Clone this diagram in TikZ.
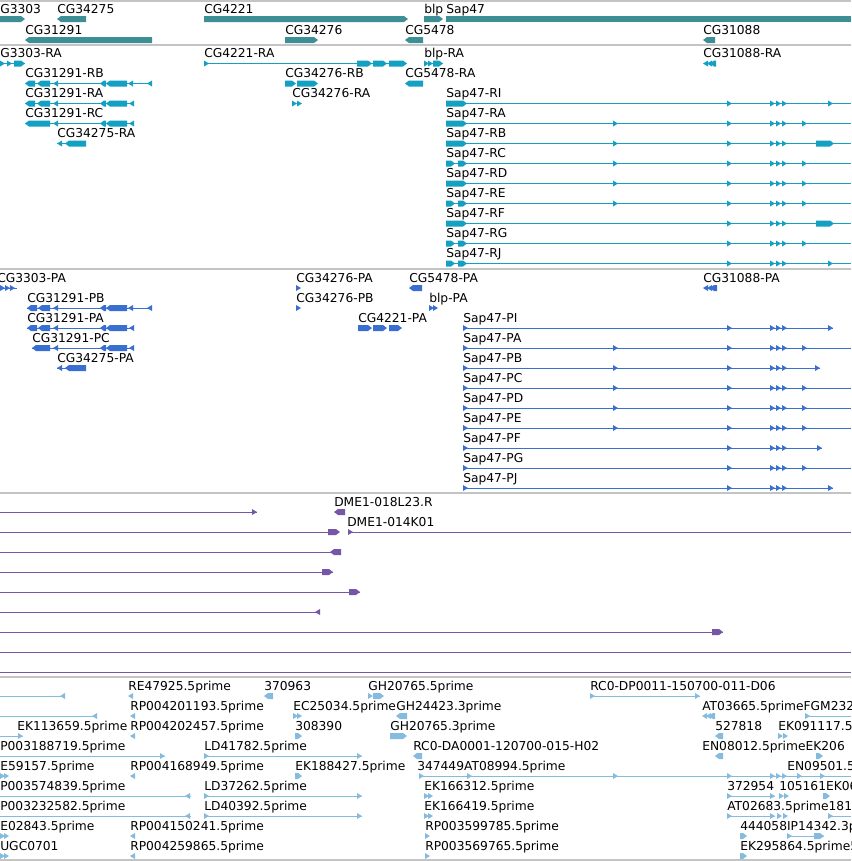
\documentclass[tikz,border=0pt]{standalone}
\usepackage{fontspec}
\setmainfont{DejaVu Sans}
\definecolor{sepc}{HTML}{C4C4C4}
\definecolor{genec}{HTML}{3E8F95}
\definecolor{trc}{HTML}{13A0C3}
\definecolor{prc}{HTML}{3A6FD2}
\definecolor{cdc}{HTML}{7656A6}
\definecolor{estc}{HTML}{86BBE0}
\newcommand\gFB[3]{\fill (#2,#1-3) -- ({#3-4},#1-3) -- (#3,#1) -- ({#3-4},#1+3) -- (#2,#1+3) -- cycle;}
\newcommand\gRB[3]{\fill (#2,#1) -- ({#2+4},#1-3) -- (#3,#1-3) -- (#3,#1+3) -- ({#2+4},#1+3) -- cycle;}
\newcommand\gFT[2]{\fill (#2,#1-3) -- ({#2+5},#1) -- (#2,#1+3) -- cycle;}
\newcommand\gRT[2]{\fill ({#2+5},#1-3) -- (#2,#1) -- ({#2+5},#1+3) -- cycle;}
\newcommand\gIL[3]{\draw[line width=0.75pt] (#2,#1) -- (#3,#1);}
\newcommand\gTrip[1]{\gFT{#1}{770}\gFT{#1}{776}\gFT{#1}{782}}
\newcommand\gTwo[1]{\gFB{#1}{446}{455}\gFB{#1}{458}{467}}
\newcommand\gL[3]{\node[lbl] at (#1,#2) {#3};}
\begin{document}
\begin{tikzpicture}[x=0.75pt,y=-0.75pt,
  lbl/.style={anchor=base west,inner sep=0pt,text=black,font=\fontsize{9.2pt}{11pt}\selectfont}]
\useasboundingbox (0,0) rectangle (851,861);
\fill[white] (0,0) rectangle (851,861);
\clip (0,0) rectangle (851,861);
% separators
\begin{scope}[sepc,line width=1.5pt]
\draw (0,1) -- (851,1);
\draw (0,45) -- (851,45);
\draw (0,269) -- (851,269);
\draw (0,493) -- (851,493);
\draw (0,677) -- (851,677);
\draw (0,860) -- (851,860);
\end{scope}
% ---------- genes ----------
\begin{scope}[genec]
\gFB{19}{0}{25}
\gRB{19}{57}{86}
\gFB{19}{204}{408}
\gFB{19}{424}{443}
\fill (446,16) rectangle (851,22);
\gRB{40}{25}{152}
\gFB{40}{285}{318}
\gRB{40}{405}{423}
\gRB{40}{703}{715}
\end{scope}
\gL{0}{13}{G3303}
\gL{57}{13}{CG34275}
\gL{204}{13}{CG4221}
\gL{424}{13}{blp}
\gL{446}{13}{Sap47}
\gL{25}{34}{CG31291}
\gL{285}{34}{CG34276}
\gL{405}{34}{CG5478}
\gL{703}{34}{CG31088}
% ---------- transcripts ----------
\begin{scope}[trc]
\gIL{63.5}{0}{25}\gFT{63.5}{0}\gFT{63.5}{7}\gFB{63.5}{14}{25}
\gIL{63.5}{204}{407}\gFT{63.5}{204}\gFB{63.5}{357}{372}\gFB{63.5}{373}{387}\gFB{63.5}{389}{407}
\gIL{63.5}{424}{443}\gFT{63.5}{424}\gFT{63.5}{428}\gFB{63.5}{433}{443}
\gRT{63.5}{703}\gRT{63.5}{707}\gRB{63.5}{710}{716}
\gIL{83.5}{25}{152}\gRB{83.5}{25}{35}\gRB{83.5}{37}{50}\gRT{83.5}{53}\gRB{83.5}{100}{106}\gRB{83.5}{106}{127}\gRT{83.5}{128}\gRT{83.5}{147}
\gFB{83.5}{285}{296}\gFB{83.5}{297}{318}
\gRB{83.5}{405}{423}
\gIL{103.5}{25}{134}\gRB{103.5}{25}{35}\gRB{103.5}{37}{50}\gRT{103.5}{53}\gRB{103.5}{100}{106}\gRB{103.5}{106}{127}\gRT{103.5}{129}
\gFT{103.5}{292}\gFT{103.5}{297}
\gIL{103.5}{446}{851}\gFB{103.5}{446}{467}\gFT{103.5}{727}\gTrip{103.5}\gFT{103.5}{828}
\gIL{123.5}{25}{134}\gRB{123.5}{25}{50}\gRT{123.5}{53}\gRB{123.5}{100}{106}\gRB{123.5}{106}{127}\gRT{123.5}{129}
\gIL{123.5}{446}{851}\gFB{123.5}{446}{467}\gFT{123.5}{613}\gFT{123.5}{727}\gTrip{123.5}\gFT{123.5}{802}
\gIL{143.5}{57}{86}\gRT{143.5}{57}\gRB{143.5}{65}{86}
\gIL{143.5}{446}{851}\gFB{143.5}{446}{467}\gFT{143.5}{613}\gFT{143.5}{727}\gTrip{143.5}\gFB{143.5}{816}{834}
\gIL{163.5}{446}{851}\gTwo{163.5}\gFT{163.5}{613}\gFT{163.5}{727}\gTrip{163.5}\gFT{163.5}{802}
\gIL{183.5}{446}{851}\gFB{183.5}{446}{467}\gFT{183.5}{613}\gFT{183.5}{727}\gTrip{183.5}\gFT{183.5}{802}
\gIL{203.5}{446}{851}\gTwo{203.5}\gFT{203.5}{613}\gFT{203.5}{727}\gTrip{203.5}\gFT{203.5}{802}
\gIL{223.5}{446}{851}\gFB{223.5}{446}{467}\gFT{223.5}{727}\gTrip{223.5}\gFB{223.5}{816}{834}
\gIL{243.5}{446}{851}\gTwo{243.5}\gFT{243.5}{727}\gTrip{243.5}\gFT{243.5}{802}
\gIL{263.5}{446}{851}\gTwo{263.5}\gFT{263.5}{727}\gTrip{263.5}\gFT{263.5}{828}
\end{scope}
\gL{0}{57.5}{G3303-RA}
\gL{204}{57.5}{CG4221-RA}
\gL{424}{57.5}{blp-RA}
\gL{703}{57.5}{CG31088-RA}
\gL{25}{77.5}{CG31291-RB}
\gL{285}{77.5}{CG34276-RB}
\gL{405}{77.5}{CG5478-RA}
\gL{25}{97.5}{CG31291-RA}
\gL{292}{97.5}{CG34276-RA}
\gL{446}{97.5}{Sap47-RI}
\gL{25}{117.5}{CG31291-RC}
\gL{446}{117.5}{Sap47-RA}
\gL{57}{137.5}{CG34275-RA}
\gL{446}{137.5}{Sap47-RB}
\gL{446}{157.5}{Sap47-RC}
\gL{446}{177.5}{Sap47-RD}
\gL{446}{197.5}{Sap47-RE}
\gL{446}{217.5}{Sap47-RF}
\gL{446}{237.5}{Sap47-RG}
\gL{446}{257.5}{Sap47-RJ}
% ---------- proteins ----------
\begin{scope}[prc]
\gIL{288}{0}{17}\gFT{288}{0}\gFT{288}{5}\gFT{288}{10}
\gFT{288}{296}
\gRB{288}{409}{422}
\gRT{288}{703}\gRT{288}{707}\gRB{288}{710}{717}
\gIL{308}{27}{152}\gRB{308}{27}{37}\gRB{308}{38}{50}\gRT{308}{53}\gRB{308}{100}{106}\gRB{308}{106}{127}\gRT{308}{128}\gRT{308}{147}
\gFT{308}{296}
\gFT{308}{429}\gFT{308}{433}
\gIL{328}{27}{134}\gRB{328}{27}{37}\gRB{328}{38}{50}\gRT{328}{53}\gRB{328}{100}{106}\gRB{328}{106}{127}\gRT{328}{129}
\gFB{328}{358}{372}\gFB{328}{373}{387}\gFB{328}{389}{402}
\gIL{328}{463}{833}\gFT{328}{463}\gFT{328}{727}\gTrip{328}\gFT{328}{828}
\gIL{348}{32}{134}\gRB{348}{32}{50}\gRT{348}{53}\gRB{348}{100}{106}\gRB{348}{106}{127}\gRT{348}{129}
\gIL{348}{463}{851}\gFT{348}{463}\gFT{348}{613}\gFT{348}{727}\gTrip{348}\gFT{348}{802}
\gIL{368}{57}{86}\gRT{368}{57}\gRB{368}{65}{86}
\gIL{368}{463}{820}\gFT{368}{463}\gFT{368}{613}\gFT{368}{727}\gTrip{368}\gFT{368}{815}
\gIL{388}{463}{851}\gFT{388}{463}\gFT{388}{613}\gFT{388}{727}\gTrip{388}\gFT{388}{802}
\gIL{408}{463}{851}\gFT{408}{463}\gFT{408}{613}\gFT{408}{727}\gTrip{408}\gFT{408}{802}
\gIL{428}{463}{851}\gFT{428}{463}\gFT{428}{613}\gFT{428}{727}\gTrip{428}\gFT{428}{802}
\gIL{448}{463}{822}\gFT{448}{463}\gFT{448}{727}\gTrip{448}\gFT{448}{817}
\gIL{468}{463}{851}\gFT{468}{463}\gFT{468}{727}\gTrip{468}\gFT{468}{802}
\gIL{488}{463}{833}\gFT{488}{463}\gFT{488}{727}\gTrip{488}\gFT{488}{828}
\end{scope}
\gL{-3}{282}{CG3303-PA}
\gL{296}{282}{CG34276-PA}
\gL{409}{282}{CG5478-PA}
\gL{703}{282}{CG31088-PA}
\gL{27}{302}{CG31291-PB}
\gL{296}{302}{CG34276-PB}
\gL{429}{302}{blp-PA}
\gL{27}{322}{CG31291-PA}
\gL{358}{322}{CG4221-PA}
\gL{463}{322}{Sap47-PI}
\gL{32}{342}{CG31291-PC}
\gL{463}{342}{Sap47-PA}
\gL{57}{362}{CG34275-PA}
\gL{463}{362}{Sap47-PB}
\gL{463}{382}{Sap47-PC}
\gL{463}{402}{Sap47-PD}
\gL{463}{422}{Sap47-PE}
\gL{463}{442}{Sap47-PF}
\gL{463}{462}{Sap47-PG}
\gL{463}{482}{Sap47-PJ}
% ---------- clones ----------
\begin{scope}[cdc]
\gIL{512}{0}{257}\gFT{512}{252}
\gRB{512}{334}{345}
\gIL{532}{0}{338}\gFB{532}{328}{340}\gFT{532}{348}\gIL{532}{348}{851}
\gIL{552}{0}{341}\gRB{552}{330}{341}
\gIL{572}{0}{333}\gFB{572}{322}{333}
\gIL{592}{0}{360}\gFB{592}{349}{360}
\gIL{612}{0}{319}\gRT{612}{315}
\gIL{632}{0}{723}\gFB{632}{712}{723}
\gIL{652}{0}{851}
\gIL{672}{0}{851}
\end{scope}
\gL{334}{506}{DME1-018L23.R}
\gL{347}{526}{DME1-014K01}
% ---------- ESTs ----------
\begin{scope}[estc]
\gIL{696}{0}{65}\gRT{696}{60}
\gRT{696}{128}
\gRB{696}{264}{273}
\gFT{696}{368}\gFB{696}{373}{384}
\gIL{696}{590}{700}\gFT{696}{590}\gFT{696}{695}
\gIL{716}{0}{97}\gRT{716}{92}
\gRT{716}{130}
\gFT{716}{293}\gFT{716}{297}
\gRB{716}{396}{407}
\gRT{716}{702}\gRT{716}{706}\gRB{716}{709}{715}
\gIL{716}{805}{851}\gFT{716}{805}
\gIL{736}{0}{23}\gFT{736}{18}
\gRT{736}{130}
\gFB{736}{295}{302}
\gFB{736}{390}{407}
\gRB{736}{715}{723}
\gFT{736}{778}\gFT{736}{783}
\gIL{756}{0}{165}\gFT{756}{160}
\gIL{756}{204}{362}\gFT{756}{204}\gFT{756}{357}
\gRB{756}{413}{422}
\gRB{756}{715}{723}
\gFB{756}{816}{823}
\gFT{776}{0}\gFT{776}{4}
\gRT{776}{130}
\gFB{776}{295}{302}
\gIL{776}{419}{851}\gFT{776}{419}\gFT{776}{467}\gFT{776}{613}\gFT{776}{727}\gTrip{776}\gFT{776}{797}\gFT{776}{820}
\gIL{796}{0}{191}\gRT{796}{185}
\gIL{796}{204}{362}\gFT{796}{204}\gFT{796}{357}
\gFT{796}{424}\gFT{796}{428}
\gIL{796}{727}{775}\gFT{796}{727}\gFT{796}{770}
\gFT{796}{779}\gFT{796}{784}
\gFB{796}{823}{830}
\gIL{816}{0}{191}\gRT{816}{185}
\gIL{816}{204}{362}\gFT{816}{204}\gFT{816}{357}
\gFT{816}{424}\gFT{816}{428}
\gIL{816}{727}{775}\gFT{816}{727}\gFT{816}{770}\gFT{816}{777}\gFT{816}{783}
\gIL{816}{828}{851}\gFT{816}{828}
\gFT{836}{0}\gFT{836}{4}
\gRT{836}{130}
\gFT{836}{425}
\gFB{836}{740}{747}
\gIL{836}{787}{824}\gFT{836}{787}\gFB{836}{814}{824}
\gFT{856}{0}\gFT{856}{4}
\gRT{856}{130}
\gFT{856}{425}
\gFB{856}{740}{747}
\end{scope}
\gL{128}{690}{RE47925.5prime}
\gL{264}{690}{370963}
\gL{368}{690}{GH20765.5prime}
\gL{590}{690}{RC0-DP0011-150700-011-D06}
\gL{130}{710}{RP004201193.5prime}
\gL{293}{710}{EC25034.5prime}
\gL{396}{710}{GH24423.3prime}
\gL{702}{710}{AT03665.5primeFGM232}
\gL{17}{730}{EK113659.5prime}
\gL{130}{730}{RP004202457.5prime}
\gL{295}{730}{308390}
\gL{390}{730}{GH20765.3prime}
\gL{715}{730}{527818}
\gL{778}{730}{EK091117.5}
\gL{0}{750}{P003188719.5prime}
\gL{204}{750}{LD41782.5prime}
\gL{413}{750}{RC0-DA0001-120700-015-H02}
\gL{702}{750}{EN08012.5primeEK206}
\gL{0}{770}{E59157.5prime}
\gL{130}{770}{RP004168949.5prime}
\gL{295}{770}{EK188427.5prime}
\gL{417}{770}{347449AT08994.5prime}
\gL{787}{770}{EN09501.5}
\gL{0}{790}{P003574839.5prime}
\gL{204}{790}{LD37262.5prime}
\gL{424}{790}{EK166312.5prime}
\gL{727}{790}{372954}
\gL{779}{790}{105161EK06}
\gL{0}{810}{P003232582.5prime}
\gL{204}{810}{LD40392.5prime}
\gL{424}{810}{EK166419.5prime}
\gL{727}{810}{AT02683.5prime181}
\gL{0}{830}{E02843.5prime}
\gL{130}{830}{RP004150241.5prime}
\gL{425}{830}{RP003599785.5prime}
\gL{740}{830}{444058IP14342.3p}
\gL{0}{850}{UGC0701}
\gL{130}{850}{RP004259865.5prime}
\gL{425}{850}{RP003569765.5prime}
\gL{740}{850}{EK295864.5prime5}
\end{tikzpicture}
\end{document}
